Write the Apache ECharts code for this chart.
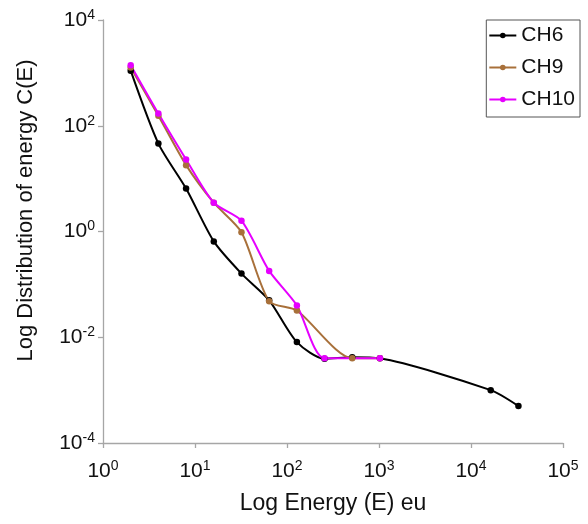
<!DOCTYPE html>
<html>
<head>
<meta charset="utf-8">
<script src="https://cdn.jsdelivr.net/npm/echarts@6/dist/echarts.min.js"></script>
<style>
    html, body { margin: 0; padding: 0; background: #fff; }
    #energy-chart { width: 588px; height: 524px; }
</style>
</head>
<body>
<div id="energy-chart"></div>
<script>
// energy values (eu) for each channel
const ch6Energy = [2, 4, 8, 16, 32, 64, 128, 256, 512, 1024, 16384, 32768];
const ch6Dist = [1100, 46, 6.5, 0.65, 0.16, 0.05, 0.0081, 0.0039, 0.0042, 0.004, 0.001, 0.0005];

const ch9Energy = [2, 4, 8, 16, 32, 64, 128, 512, 1024];
const ch9Dist = [1260, 155, 18, 3.5, 0.97, 0.048, 0.032, 0.004, 0.004];

const ch10Energy = [2, 4, 8, 16, 32, 64, 128, 256, 1024];
const ch10Dist = [1400, 170, 23, 3.5, 1.6, 0.18, 0.04, 0.004, 0.004];

const seriesNames = ['CH6', 'CH9', 'CH10'];

const FONT = 'Liberation Sans, Arial, sans-serif';

const toPairs = (xs, ys) => xs.map((x, i) => [x, ys[i]]);

// 10^n with superscript exponent
const powLabel = (value) => {
    const exp = Math.round(Math.log10(value));
    return `{b|10}{s|${exp}}`;
};

const labelRich = {
    b: { fontSize: 21, fontFamily: FONT, color: '#111', lineHeight: 24 },
    s: { fontSize: 14, fontFamily: FONT, color: '#111', verticalAlign: 'top', lineHeight: 12 },
};

const axisLineStyle = { color: '#a6a6a6', width: 1.3 };

const makeSeries = (name, xs, ys, color) => ({
    name,
    type: 'line',
    smooth: 0.25,
    symbol: 'circle',
    symbolSize: 6.5,
    lineStyle: { color, width: 2 },
    itemStyle: { color },
    data: toPairs(xs, ys),
});

const el = document.getElementById('energy-chart');
const myChart = echarts.init(el, null, { renderer: 'canvas' });

const option = {
    backgroundColor: '#fff',
    animation: false,
    textStyle: { fontFamily: FONT },
    grid: {
        left: 103,
        right: 25,
        top: 20,
        bottom: 81,
    },
    legend: {
        orient: 'vertical',
        right: 8,
        top: 20,
        padding: [5, 5, 7, 2],
        borderColor: '#555',
        borderWidth: 1,
        itemWidth: 27,
        itemHeight: 7,
        itemGap: 11,
        textStyle: { fontSize: 21, fontFamily: FONT, color: '#111' },
        data: seriesNames,
    },
    xAxis: {
        type: 'log',
        logBase: 10,
        min: 1,
        max: 100000,
        name: 'Log Energy (E) eu',
        nameLocation: 'middle',
        nameGap: 49,
        nameTextStyle: { fontSize: 23, fontFamily: FONT, color: '#111' },
        axisLine: { lineStyle: axisLineStyle },
        axisTick: { show: true, length: 5, lineStyle: axisLineStyle },
        splitLine: { show: false },
        minorTick: { show: false },
        axisLabel: {
            margin: 16,
            formatter: powLabel,
            rich: labelRich,
        },
    },
    yAxis: {
        type: 'log',
        logBase: 10,
        min: 0.0001,
        max: 10000,
        interval: 2,
        name: 'Log Distribution of energy C(E)',
        nameLocation: 'middle',
        nameGap: 66,
        nameTextStyle: { fontSize: 22, fontFamily: FONT, color: '#111', padding: [0, 0, 0, 42] },
        axisLine: { show: true, lineStyle: axisLineStyle },
        axisTick: { show: true, length: 5, lineStyle: axisLineStyle },
        splitLine: { show: false },
        axisLabel: {
            margin: 8,
            formatter: powLabel,
            rich: labelRich,
        },
    },
    series: [
        makeSeries('CH6', ch6Energy, ch6Dist, '#000000'),
        makeSeries('CH9', ch9Energy, ch9Dist, '#a8703a'),
        makeSeries('CH10', ch10Energy, ch10Dist, '#e600ff'),
    ],
};

myChart.setOption(option);
window.addEventListener('resize', () => {
    myChart.resize();
});
</script>
</body>
</html>
